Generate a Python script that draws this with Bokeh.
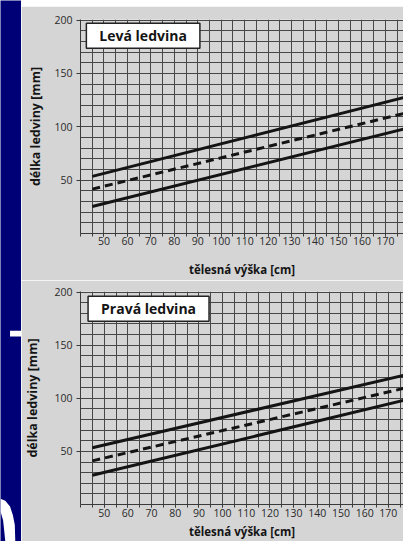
from bokeh.plotting import figure
from bokeh.layouts import row, column
from bokeh.models import Range1d, FixedTicker, Label
from bokeh.embed import file_html
from bokeh.resources import INLINE

# ---------------- data ----------------
x_ends_left = [45, 178]          # tělesná výška [cm]
left_upper = [53.5, 127.5]       # délka ledviny [mm]
left_mean = [41.6, 112.5]
left_lower = [25.3, 98.0]

x_ends_right = [45, 176.5]
right_upper = [53.5, 121.6]
right_mean = [41.1, 109.3]
right_lower = [27.5, 98.0]

x_label_ticks = [50, 60, 70, 80, 90, 100, 110, 120, 130, 140, 150, 160, 170]
x_grid_ticks = [40, 45, 50, 55, 60, 65, 70, 75, 80, 85, 90, 95, 100, 105, 110,
                115, 120, 125, 130, 135, 140, 145, 150, 155, 160, 165, 170, 175, 180]
y_label_ticks = [50, 100, 150, 200]
y_grid_ticks = [0, 10, 20, 30, 40, 50, 60, 70, 80, 90, 100, 110, 120, 130, 140,
                150, 160, 170, 180, 190, 200]

titles = ["Levá ledvina", "Pravá ledvina"]
x_title = "tělesná výška [cm]"
y_title = "délka ledviny [mm]"

# slide decoration on the left blue strip (in the strip's own 0..22 x 0..557 units)
dash_box = dict(left=10, right=22, top=340, bottom=346)
ring_x = [0, 5, 10, 13, 15, 15.5, 5, 4, 2.7, 0]
ring_y = [513, 515, 521, 530, 540, 557, 557, 547, 535, 526]

PAPER = "#d5d5d5"
BLUE = "#000076"
GRID = "#474747"
INK = "#141414"
FONT = "Open Sans"


def panel(title, xs, up, mid, lo, height, x_end, mb_top, mb_bottom, mb_left,
          tick_standoff, label_standoff, ylabel_standoff, title_x, title_y):
    p = figure(width=382, height=height, x_range=Range1d(40, x_end),
               y_range=Range1d(0, 200.5), toolbar_location=None,
               output_backend="svg", min_border_left=mb_left, min_border_right=0,
               min_border_top=mb_top, min_border_bottom=mb_bottom,
               background_fill_color=PAPER, border_fill_color=PAPER,
               outline_line_color=None)
    p.xgrid.ticker = FixedTicker(ticks=x_grid_ticks)
    p.ygrid.ticker = FixedTicker(ticks=y_grid_ticks)
    p.grid.grid_line_color = GRID
    p.grid.grid_line_width = 1

    p.xaxis.ticker = FixedTicker(ticks=x_label_ticks, minor_ticks=x_grid_ticks)
    p.yaxis.ticker = FixedTicker(ticks=y_label_ticks, minor_ticks=[])
    for ax in (p.xaxis, p.yaxis):
        ax.axis_line_color = "#3a3a3a"
        ax.major_tick_line_color = "#3a3a3a"
        ax.minor_tick_line_color = "#3a3a3a"
        ax.major_tick_in = 0
        ax.minor_tick_in = 0
        ax.major_label_text_font = FONT
        ax.major_label_text_font_size = "10.5px"
        ax.major_label_text_color = "#2a2a2a"
        ax.axis_label_text_font = FONT
        ax.axis_label_text_font_style = "bold"
        ax.axis_label_text_color = INK
    p.xaxis.major_tick_out = 3
    p.xaxis.minor_tick_out = 3
    p.xaxis.major_label_standoff = tick_standoff
    p.xaxis.axis_label = x_title
    p.xaxis.axis_label_text_font_size = "11.5px"
    p.xaxis.axis_label_standoff = label_standoff
    p.yaxis.major_tick_out = 4
    p.yaxis.minor_tick_out = 0
    p.yaxis.major_label_standoff = 4
    p.yaxis.axis_label = y_title
    p.yaxis.axis_label_text_font_size = "12.5px"
    p.yaxis.axis_label_standoff = ylabel_standoff

    p.line(xs, up, line_width=3, line_color=INK)
    p.line(xs, mid, line_width=3, line_color=INK, line_dash="8 5")
    p.line(xs, lo, line_width=3, line_color=INK)

    p.add_layout(Label(x=title_x, y=title_y, text=title, text_font=FONT,
                       text_font_style="bold", text_font_size="14px",
                       text_color=INK, text_align="left", text_baseline="top",
                       anchor="top_left",
                       background_fill_color="white", background_fill_alpha=1,
                       border_line_color="#222222", border_line_width=1.5,
                       padding=dict(left=13, right=13, top=3, bottom=3)))
    return p


band = figure(width=382, height=6, toolbar_location=None, output_backend="svg",
              min_border=0, background_fill_color=BLUE, border_fill_color=BLUE,
              outline_line_color=None, x_range=Range1d(0, 1), y_range=Range1d(0, 1))
band.axis.visible = False
band.grid.visible = False

top = panel(titles[0], x_ends_left, left_upper, left_mean, left_lower,
            height=274, x_end=177.7, mb_top=13, mb_bottom=47, mb_left=51,
            tick_standoff=0, label_standoff=14, ylabel_standoff=7,
            title_x=42.5, title_y=196.9)
bottom = panel(titles[1], x_ends_right, right_upper, right_mean, right_lower,
               height=261, x_end=176.4, mb_top=11, mb_bottom=36, mb_left=54,
               tick_standoff=1, label_standoff=4, ylabel_standoff=10,
               title_x=43.2, title_y=196.0)

strip = figure(width=21, height=541, x_range=Range1d(0, 22), y_range=Range1d(557, 0),
               toolbar_location=None, output_backend="svg", min_border=0,
               background_fill_color=BLUE, border_fill_color=BLUE,
               outline_line_color=None)
strip.axis.visible = False
strip.grid.visible = False
strip.quad(left=[dash_box["left"]], right=[dash_box["right"]],
           top=[dash_box["top"]], bottom=[dash_box["bottom"]],
           fill_color="white", line_color=None)
strip.patch(ring_x, ring_y, fill_color="white", line_color=None)

p = row(strip, column(band, top, bottom, spacing=0), spacing=0)

open("out.html", "w").write(file_html(p, INLINE))
